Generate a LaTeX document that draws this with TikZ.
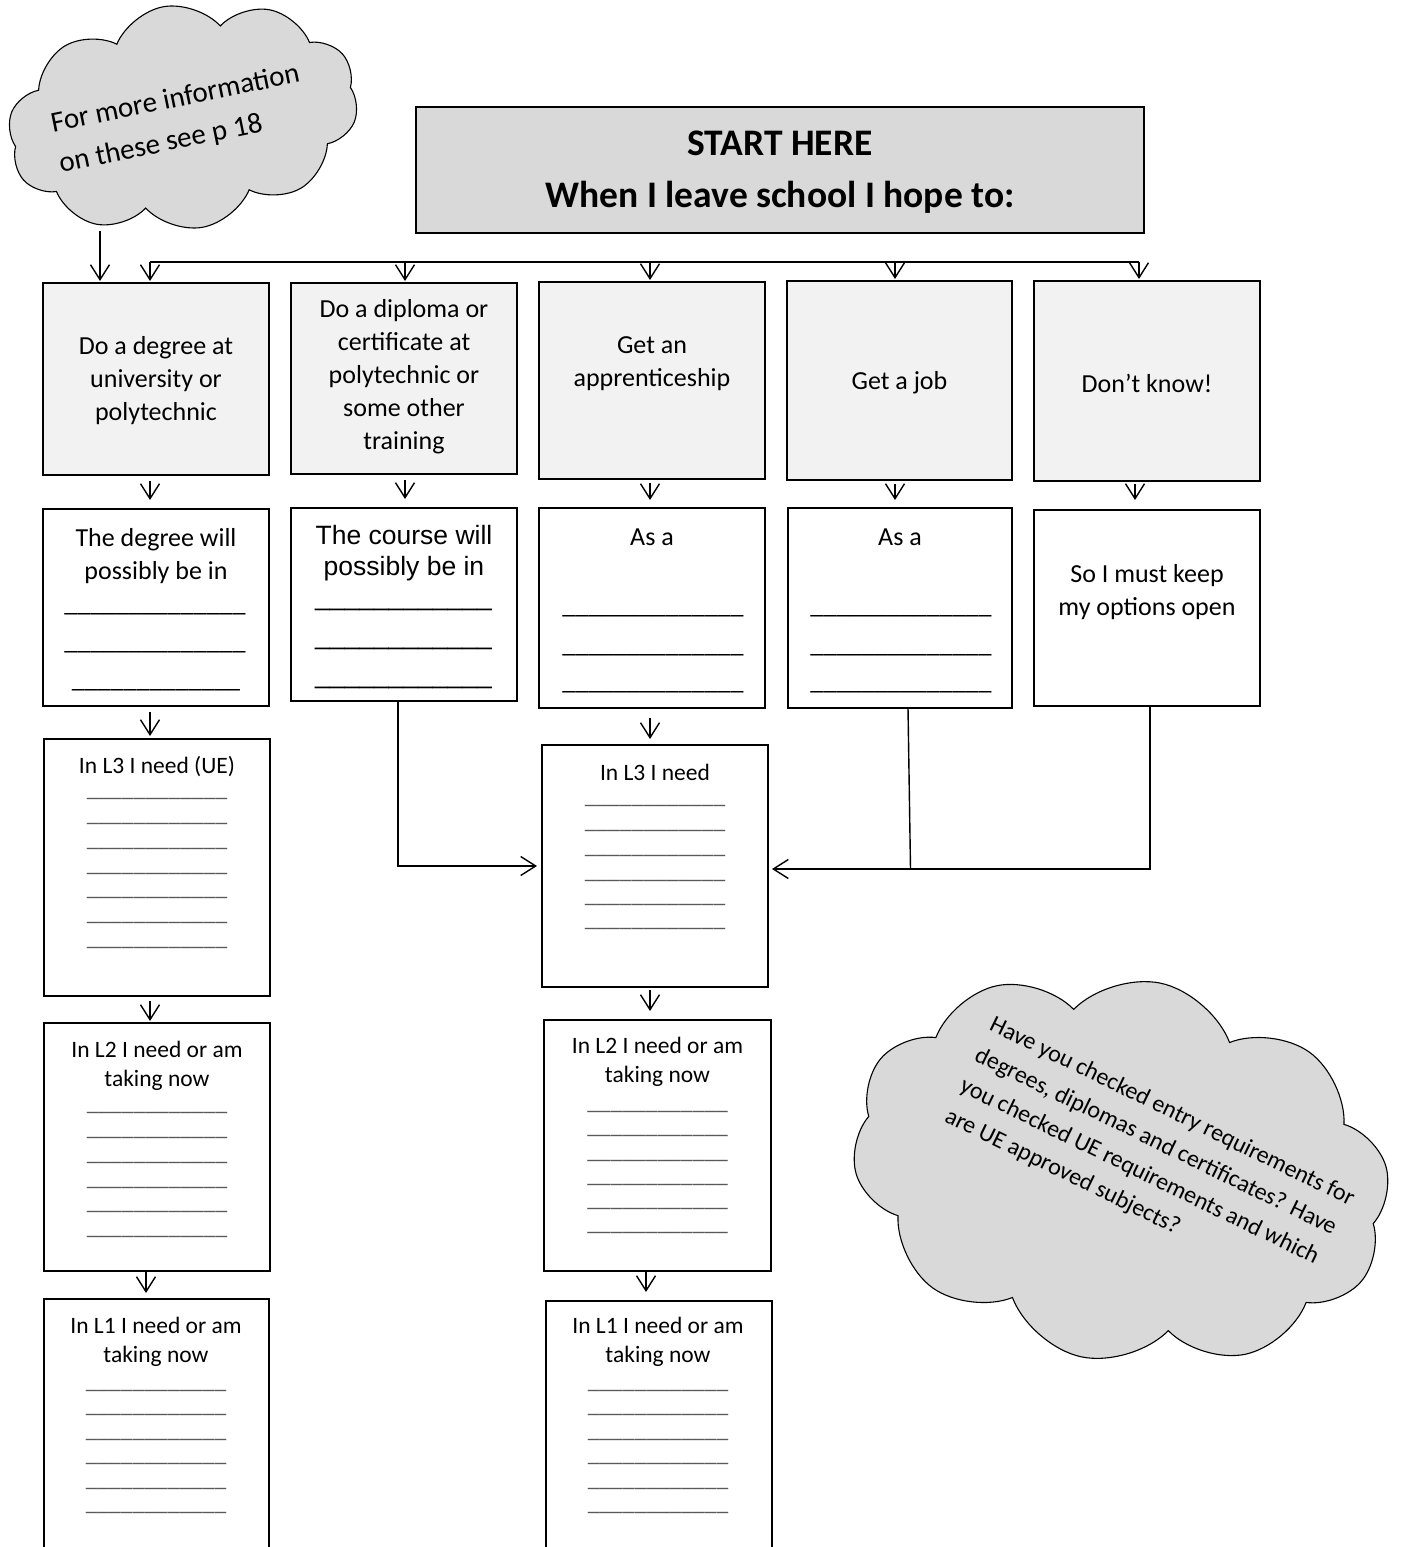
\documentclass[tikz,border=0pt]{standalone}
\usepackage{fontspec}
\setmainfont{Carlito}
\newfontfamily\arialf{Liberation Sans}
\usetikzlibrary{arrows.meta,shapes.symbols,calc}
\definecolor{startfill}{HTML}{D9D9D9}
\definecolor{boxfill}{HTML}{F2F2F2}
\definecolor{cloudfill}{HTML}{D9D9D9}
\definecolor{ulgray}{HTML}{595959}
\newcommand\blank[1]{{\count255=#1\relax\loop\ifnum\count255>0 \_\advance\count255 by -1\relax\repeat}}
\newcommand\mkbox[6]{\node[bx, fill=#6, minimum width=#4-#2, minimum height=#5-#3] (#1) at (#2,#3) {};}
\begin{document}
\begin{tikzpicture}[x=1pt,y=-1pt,
  bx/.style={draw=black, line width=1.5pt, inner sep=0pt, outer sep=0pt, anchor=north west},
  arr/.style={-{Straight Barb[length=15pt,width=19pt]}, line width=1.4pt},
  conn/.style={line width=1.4pt},
  txt/.style={inner sep=0pt, align=center, font=\fontsize{26}{33}\selectfont},
  atxt/.style={inner sep=0pt, align=center, font=\arialf\fontsize{26.5}{31}\selectfont},
  ltxt/.style={inner sep=0pt, align=center, font=\fontsize{23.5}{29}\selectfont},
  ul/.style={inner sep=0pt, anchor=base, font=\fontsize{26}{33}\selectfont},
  aul/.style={inner sep=0pt, anchor=base, font=\arialf\fontsize{26.5}{31}\selectfont},
  lul/.style={inner sep=0pt, anchor=base, text=ulgray, font=\fontsize{23.5}{29}\selectfont},
  cloudbox/.style={cloud, draw=black, fill=cloudfill, line width=1.1pt, inner sep=0pt},
  ctxt/.style={inner sep=0pt, anchor=north west, align=left, transform shape},
]
\useasboundingbox (0,0) rectangle (1416,1547);
\clip (0,0) rectangle (1416,1547);

% ---------- clouds ----------
\node[cloudbox, cloud puffs=10, cloud puff arc=115, minimum width=353pt, minimum height=224pt, rotate=10] (cloudA) at (183,117) {};
\begin{scope}[shift={(53,133)}, rotate=11.5]
  \node[ctxt, font=\fontsize{29}{41}\selectfont] (cA) at (0,-20.9) {For more information\\on these see p 18};
\end{scope}

\node[cloudbox, cloud puffs=10, cloud puff arc=115, minimum width=543pt, minimum height=382pt, rotate=-12] (cloudB) at (1121,1170) {};
\begin{scope}[shift={(988,1030)}, rotate=-26]
  \node[ctxt, font=\fontsize{24}{34}\selectfont] (cB) at (0,-17.3) {Have you checked entry requirements for\\degrees, diplomas and certificates? Have\\you checked UE requirements and which\\are UE approved subjects?};
\end{scope}

% ---------- start box ----------
\mkbox{start}{416}{107}{1144}{233}{startfill}
\node[inner sep=0pt, font=\bfseries\fontsize{37.5}{45}\selectfont] (startA) at (780,143) {START HERE};
\node[inner sep=0pt, font=\bfseries\fontsize{37.5}{45}\selectfont] (startB) at (780,197) {When I leave school I hope to:};

% ---------- top row ----------
\mkbox{b1}{43}{283}{269}{475}{boxfill}
\mkbox{b2}{291}{283}{517}{474}{boxfill}
\mkbox{b3}{539}{282}{765}{479}{boxfill}
\mkbox{b4}{787}{281}{1012}{480}{boxfill}
\mkbox{b5}{1034}{281}{1260}{481}{boxfill}
\node[txt] (t1) at (156,381) {Do a degree at\\university or\\polytechnic};
\node[txt] (t2) at (404,377) {Do a diploma or\\certificate at\\polytechnic or\\some other\\training};
\node[txt] (t3) at (652,364) {Get an\\apprenticeship};
\node[txt] (t4) at (899.5,383) {Get a job};
\node[txt] (t5) at (1147,383) {Don’t know!};

% ---------- second row ----------
\mkbox{c1}{43}{509}{269}{706}{white}
\mkbox{c2}{291}{508}{517}{701}{white}
\mkbox{c3}{539}{508}{765}{708}{white}
\mkbox{c4}{788}{508}{1012}{708}{white}
\mkbox{c5}{1034}{510}{1260}{706}{white}
\node[txt] (s1) at (156,556) {The degree will\\possibly be in};
\node[ul] (s1a) at (155,611) {\blank{14}};
\node[ul] (s1b) at (155,649) {\blank{14}};
\node[ul] (s1c) at (156,687) {\blank{13}};
\node[atxt] (s2) at (404,553) {The course will\\possibly be in};
\node[aul] (s2a) at (403.5,605) {\blank{12}};
\node[aul] (s2b) at (403.5,644) {\blank{12}};
\node[aul] (s2c) at (403.5,683) {\blank{12}};
\node[txt] (s3) at (652,537) {As a};
\node[ul] (s3a) at (653,613) {\blank{14}};
\node[ul] (s3b) at (653,652) {\blank{14}};
\node[ul] (s3c) at (653,689) {\blank{14}};
\node[txt] (s4) at (900,537) {As a};
\node[ul] (s4a) at (901,613) {\blank{14}};
\node[ul] (s4b) at (901,652) {\blank{14}};
\node[ul] (s4c) at (901,689) {\blank{14}};
\node[txt] (s5) at (1147,592) {So I must keep\\my options open};

% ---------- left column ----------
\mkbox{L3l}{44}{739}{270}{996}{white}
\mkbox{L2l}{44}{1023}{270}{1271}{white}
\mkbox{L1l}{44}{1299}{269}{1570}{white}
\node[ltxt] (u3) at (157,767) {In L3 I need (UE)};
\foreach \yy [count=\i] in {799,824,849,874,898,923,948}
  \node[lul] (u3l\i) at (157,\yy-2.5) {\blank{12}};
\node[ltxt] (u2) at (157,1065.5) {In L2 I need or am\\taking now};
\foreach \yy [count=\i] in {1113,1137.5,1162.5,1187.5,1212,1236.5}
  \node[lul] (u2l\i) at (157,\yy-2.5) {\blank{12}};
\node[ltxt] (u1) at (156,1342) {In L1 I need or am\\taking now};
\foreach \yy [count=\i] in {1391,1415,1440,1464,1489,1513}
  \node[lul] (u1l\i) at (156,\yy-2.5) {\blank{12}};

% ---------- centre column ----------
\mkbox{L3c}{542}{745}{768}{987}{white}
\mkbox{L2c}{544}{1020}{771}{1271}{white}
\mkbox{L1c}{546}{1301}{772}{1570}{white}
\node[ltxt] (v3) at (655,772) {In L3 I need};
\foreach \yy [count=\i] in {806,831,856,881,905,929}
  \node[lul] (v3l\i) at (655,\yy-2.5) {\blank{12}};
\node[ltxt] (v2) at (657.5,1062) {In L2 I need or am\\taking now};
\foreach \yy [count=\i] in {1112,1136,1161,1185,1209,1233}
  \node[lul] (v2l\i) at (657.5,\yy-2.5) {\blank{12}};
\node[ltxt] (v1) at (658,1342) {In L1 I need or am\\taking now};
\foreach \yy [count=\i] in {1391,1415,1440,1464,1489,1513}
  \node[lul] (v1l\i) at (658,\yy-2.5) {\blank{12}};

% ---------- connectors ----------
\coordinate (bus1) at (150,262);
\coordinate (bus2) at (405,262);
\coordinate (bus3) at (650,262);
\coordinate (bus4) at (895,262);
\coordinate (bus5) at (1139,262);
\coordinate (ax5) at (1135,262);
\coordinate (ax6) at (146,262);
\coordinate (ax7) at (646,262);
\draw[conn] (bus1) -- (bus5);
\foreach \k in {1,...,5}
  \draw[arr, shorten >=2pt] (bus\k) -- (bus\k |- b\k.north);

\coordinate (ctail) at (100,231);
\draw[arr, shorten >=2pt] (ctail) -- (ctail |- b1.north);

\draw[arr, shorten <=6pt, shorten >=9pt] (b1.south -| bus1) -- (c1.north -| bus1);
\draw[arr, shorten <=6pt, shorten >=9pt] (b2.south -| bus2) -- (c2.north -| bus2);
\draw[arr, shorten <=4pt, shorten >=8pt] (b3.south -| bus3) -- (c3.north -| bus3);
\draw[arr, shorten <=4pt, shorten >=8pt] (b4.south -| bus4) -- (c4.north -| bus4);
\draw[arr, shorten <=3pt, shorten >=10pt] (b5.south -| ax5) -- (c5.north -| ax5);

\draw[arr, shorten <=6pt, shorten >=3pt] (c1.south -| bus1) -- (L3l.north -| bus1);
\draw[arr, shorten <=10pt, shorten >=6pt] (c3.south -| bus3) -- (L3c.north -| bus3);
\draw[arr, shorten <=5pt, shorten >=2pt] (L3l.south -| bus1) -- (L2l.north -| bus1);
\draw[arr, shorten <=3pt, shorten >=9pt] (L3c.south -| bus3) -- (L2c.north -| bus3);
\draw[arr, shorten <=1pt, shorten >=6pt] (L2l.south -| ax6) -- (L1l.north -| ax6);
\draw[arr, shorten <=1pt, shorten >=9pt] (L2c.south -| ax7) -- (L1c.north -| ax7);

\coordinate (k2) at (398,866);
\draw[arr, shorten >=5pt] (c2.south -| k2) -- (k2) -- (k2 -| L3c.west);
\coordinate (k5) at (1150,869);
\draw[arr, shorten >=4pt] (c5.south -| k5) -- (k5) -- (k5 -| L3c.east);
\coordinate (k4top) at (908,0);
\coordinate (k4) at (910.5,869);
\draw[conn] (c4.south -| k4top) -- (k4);
\end{tikzpicture}
\end{document}
